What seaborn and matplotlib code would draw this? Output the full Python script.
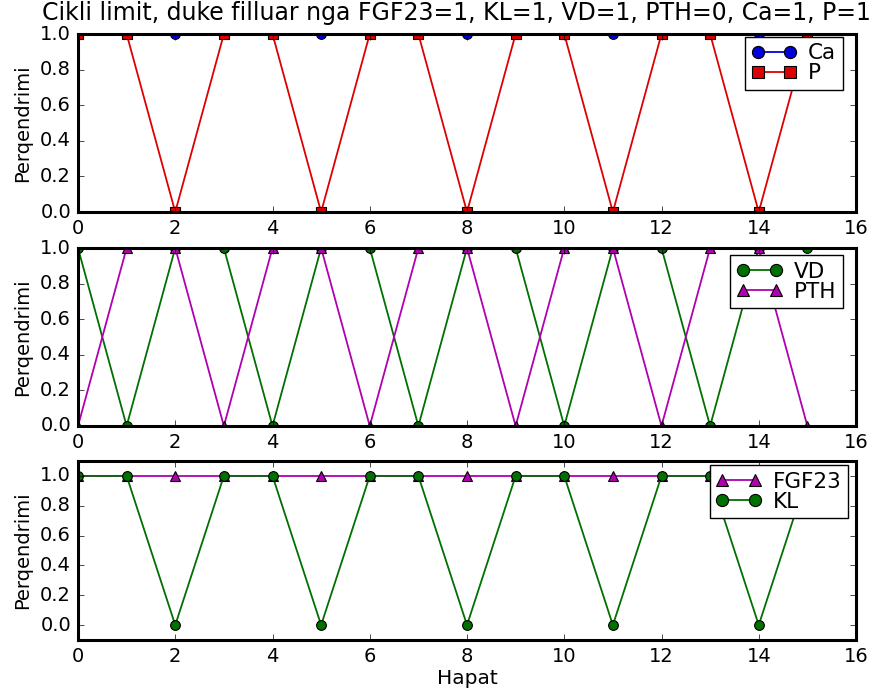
import matplotlib
matplotlib.use("Agg")
import matplotlib.pyplot as plt
import seaborn as sns
import pandas as pd

t = list(range(16))
Ca = [1] * 16
P = [1, 1, 0, 1, 1, 0, 1, 1, 0, 1, 1, 0, 1, 1, 0, 1]
VD = [1, 0, 1, 1, 0, 1, 1, 0, 1, 1, 0, 1, 1, 0, 1, 1]
PTH = [0, 1, 1, 0, 1, 1, 0, 1, 1, 0, 1, 1, 0, 1, 1, 0]
FGF23 = [1] * 16
KL = [1, 1, 0, 1, 1, 0, 1, 1, 0, 1, 1, 0, 1, 1, 0, 1]

title = "Cikli limit, duke filluar nga FGF23=1, KL=1, VD=1, PTH=0, Ca=1, P=1"
xlabel = "Hapat"
ylabel = "Perqendrimi"

plt.style.use("classic")
plt.rcParams["font.family"] = ["DejaVu Sans"]

W, H = 888, 693
fig = plt.figure(figsize=(W / 100, H / 100), dpi=100)
fig.patch.set_facecolor("white")

def box(x0, y0, x1, y1):
    return [x0 / W, 1 - y1 / H, (x1 - x0) / W, (y1 - y0) / H]

ax1 = fig.add_axes(box(78, 34, 856, 212))
ax2 = fig.add_axes(box(78, 248, 856, 426))
ax3 = fig.add_axes(box(78, 461, 856, 640))

def draw(ax, y, label, color, marker, ms):
    df = pd.DataFrame({"t": t, "v": y})
    sns.lineplot(data=df, x="t", y="v", ax=ax, color=color, marker=marker,
                 markersize=ms, markeredgecolor="black", markeredgewidth=0.8,
                 linewidth=1.3, label=label, estimator=None, sort=False)

draw(ax1, Ca, "Ca", "#0000dd", "o", 7)
draw(ax1, P, "P", "#dd0000", "s", 7)
draw(ax2, VD, "VD", "#007000", "o", 7)
draw(ax2, PTH, "PTH", "#b000b0", "^", 7)
draw(ax3, FGF23, "FGF23", "#b000b0", "^", 7)
draw(ax3, KL, "KL", "#007000", "o", 7)

legend_anchor = {ax1: (0.983, 0.985), ax2: (0.983, 0.96), ax3: (0.99, 0.975)}

for ax in (ax1, ax2, ax3):
    ax.set_xlim(0, 16)
    ax.set_xticks(range(0, 17, 2))
    ax.set_ylabel(ylabel, fontsize=14, labelpad=6)
    ax.set_xlabel("")
    ax.tick_params(labelsize=14, pad=5)
    for s in ax.spines.values():
        s.set_linewidth(2.2)
    ax.legend(loc="upper right", bbox_to_anchor=legend_anchor[ax],
              numpoints=2, fontsize=15.5, borderpad=0.3, markerscale=1.25,
              handlelength=2.1, labelspacing=0.0, handletextpad=0.55,
              borderaxespad=0.0, frameon=True, fancybox=False)

ax1.set_ylim(0, 1)
ax2.set_ylim(0, 1)
ax1.set_yticks([0, 0.2, 0.4, 0.6, 0.8, 1.0])
ax2.set_yticks([0, 0.2, 0.4, 0.6, 0.8, 1.0])
ax3.set_ylim(-0.1, 1.1)
ax3.set_yticks([0, 0.2, 0.4, 0.6, 0.8, 1.0])
ax3.set_xlabel(xlabel, fontsize=14.5, labelpad=2)
ax1.set_title(title, fontsize=17, x=0.487, pad=10)

fig.savefig("out.png", dpi=100)
